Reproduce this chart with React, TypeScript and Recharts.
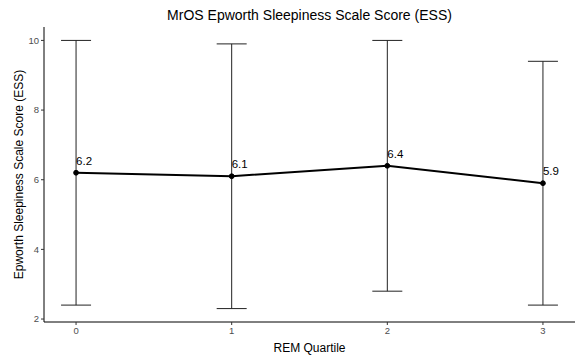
import { LineChart, Line, XAxis, YAxis, ErrorBar, LabelList } from 'recharts';

const quartiles = [0, 1, 2, 3];
const meanEss = [6.2, 6.1, 6.4, 5.9];
const lowerEss = [2.4, 2.3, 2.8, 2.4];
const upperEss = [10.0, 9.9, 10.0, 9.4];
const xTicks = [0, 1, 2, 3];
const yTicks = [2, 4, 6, 8, 10];

const data = quartiles.map((q, i) => ({
  q,
  mean: meanEss[i],
  err: [
    +(meanEss[i] - lowerEss[i]).toFixed(2),
    +(upperEss[i] - meanEss[i]).toFixed(2),
  ],
}));

const font = '"Liberation Sans", Arial, Helvetica, sans-serif';

const PointLabel = (props: any) => {
  const { x, y, value } = props;
  return (
    <text x={x} y={y - 8} fontSize={11.5} fill="#000" fontFamily={font} textAnchor="start">
      {Number(value).toFixed(1)}
    </text>
  );
};

const App = () => {
  return (
    <div style={{ position: 'absolute', left: 0, top: 0, width: 579, height: 360, background: '#fff', fontFamily: font }}>
      <div
        style={{
          position: 'absolute',
          left: 44,
          width: 531,
          top: 7,
          textAlign: 'center',
          fontSize: 14,
          color: '#000',
        }}
      >
        MrOS Epworth Sleepiness Scale Score (ESS)
      </div>
      <LineChart width={579} height={360} data={data} margin={{ top: 27, right: 4, bottom: 0, left: 0 }}>
        <XAxis
          dataKey="q"
          type="number"
          domain={[-0.206, 3.206]}
          ticks={xTicks}
          allowDataOverflow
          height={38}
          tickSize={3}
          axisLine={{ stroke: '#000', strokeWidth: 1 }}
          tickLine={{ stroke: '#333' }}
          tick={{ fill: '#4d4d4d', fontSize: 9.5, fontFamily: font }}
          label={{ value: 'REM Quartile', position: 'insideBottom', offset: 8, fill: '#000', fontSize: 12, fontFamily: font }}
        />
        <YAxis
          type="number"
          domain={[1.915, 10.385]}
          ticks={yTicks}
          allowDataOverflow
          width={44}
          tickSize={3}
          axisLine={{ stroke: '#000', strokeWidth: 1 }}
          tickLine={{ stroke: '#333' }}
          tick={{ fill: '#4d4d4d', fontSize: 9.5, fontFamily: font }}
          label={{
            content: () => (
              <text
                x={19}
                y={174.5}
                transform="rotate(-90 19 174.5)"
                textAnchor="middle"
                dominantBaseline="central"
                fontSize={12}
                fill="#000"
                fontFamily={font}
              >
                Epworth Sleepiness Scale Score (ESS)
              </text>
            ),
          }}
        />
        <Line
          dataKey="mean"
          stroke="#000"
          strokeWidth={2}
          dot={{ r: 2.4, fill: '#000', stroke: '#000', strokeWidth: 1 }}
          activeDot={false}
          isAnimationActive={false}
        >
          <ErrorBar dataKey="err" direction="y" width={15} stroke="#222" strokeWidth={1} isAnimationActive={false} />
          <LabelList dataKey="mean" content={PointLabel} />
        </Line>
      </LineChart>
    </div>
  );
};

export default App;
